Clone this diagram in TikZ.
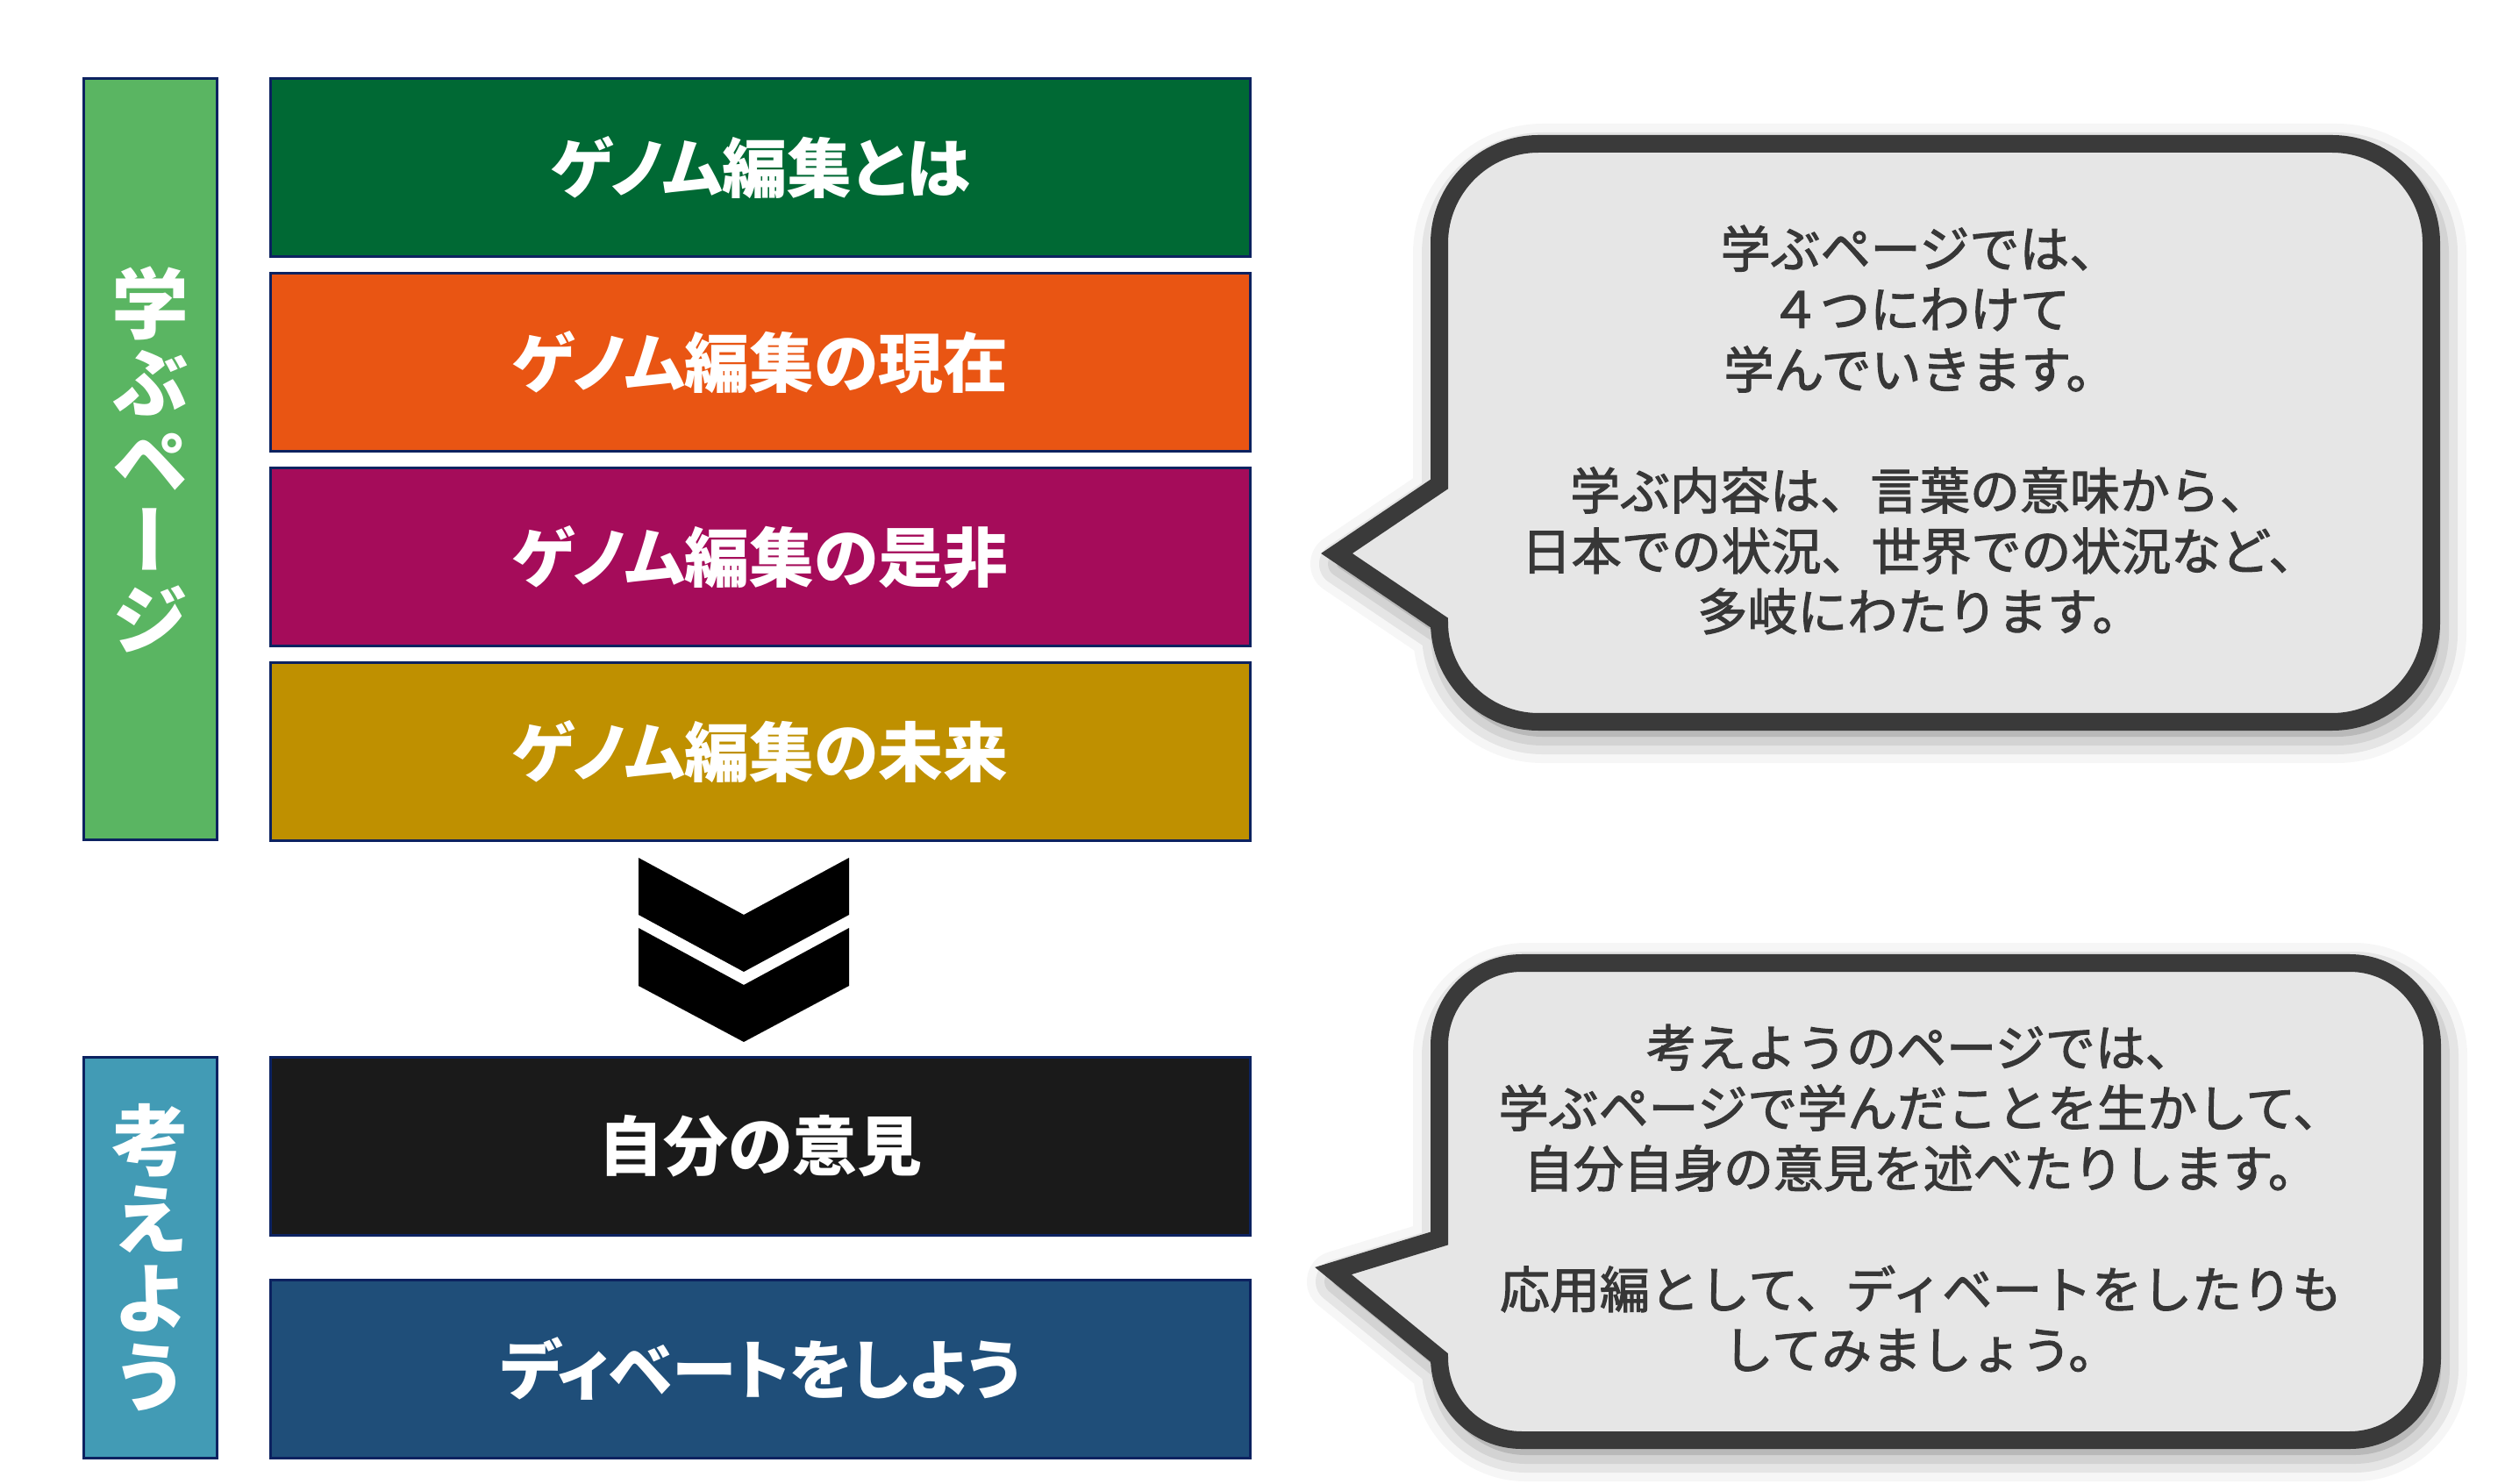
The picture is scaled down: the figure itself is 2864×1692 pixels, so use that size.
\documentclass[tikz,border=0pt]{standalone}
\usepackage{fontspec}
\setmainfont{Noto Sans CJK JP}
\newfontfamily\tatefont[RawFeature=+vert]{Noto Sans CJK JP}
\newfontfamily\labelfont[RawFeature=+palt]{Noto Sans CJK JP}
\newfontfamily\notefont[FakeBold=2]{Noto Sans CJK JP}
\usetikzlibrary{positioning,shadows.blur}
\definecolor{framenavy}{RGB}{12,34,96}
\definecolor{manabugreen}{RGB}{90,181,98}
\definecolor{kangaeblue}{RGB}{66,155,181}
\definecolor{genomegreen}{RGB}{0,105,52}
\definecolor{genomeorange}{RGB}{233,85,19}
\definecolor{genomepurple}{RGB}{165,12,90}
\definecolor{genomegold}{RGB}{191,144,0}
\definecolor{opinionblack}{RGB}{26,26,26}
\definecolor{debateblue}{RGB}{31,78,121}
\definecolor{bubbleline}{RGB}{58,58,58}
\definecolor{bubblefill}{RGB}{230,230,230}
\definecolor{bubbleink}{RGB}{55,55,55}
\tikzset{
    topic/.style={draw=framenavy,line width=0.03cm,minimum width=11.17cm,minimum height=2.03cm,
        inner sep=0pt,text=white,font=\labelfont\fontsize{21}{24}\selectfont\bfseries},
    sidebar/.style={draw=framenavy,line width=0.03cm,minimum width=1.52cm,inner sep=0pt,
        text=white,align=center,font=\tatefont\fontsize{25}{25.6}\selectfont\bfseries},
    bubble/.style={draw=bubbleline,fill=bubblefill,line width=0.2cm,line join=miter,
        blur shadow={shadow xshift=0.05cm,shadow yshift=-0.12cm,shadow blur radius=0.35cm,shadow opacity=55}},
    bubbletext/.style={align=center,text=bubbleink,font=\notefont\fontsize{16.2}{19.6}\selectfont}
}
\begin{document}
\begin{tikzpicture}[x=0.01cm,y=-0.01cm]
        \useasboundingbox (0,0) rectangle (2864,1692);
        %% Topics
        \node[topic,fill=genomegreen]  (genome1) at (867,191) {ゲノム編集とは};
        \node[topic,fill=genomeorange,below=0.16cm of genome1] (genome2) {ゲノム編集の現在};
        \node[topic,fill=genomepurple,below=0.16cm of genome2] (genome3) {ゲノム編集の是非};
        \node[topic,fill=genomegold,below=0.16cm of genome3]   (genome4) {ゲノム編集の未来};
        \node[topic,fill=opinionblack,below=2.43cm of genome4] (opinion) {自分の意見};
        \node[topic,fill=debateblue,below=0.48cm of opinion]   (debate)  {ディベートをしよう};
        %% Side bars
        \node[sidebar,fill=manabugreen,minimum height=8.68cm,anchor=north east]
            (manabu) at ([xshift=-0.58cm]genome1.north west) {学\\ぶ\\ペ\\ー\\ジ};
        \node[sidebar,fill=kangaeblue,minimum height=4.57cm,anchor=north east]
            (kangae) at ([xshift=-0.58cm]opinion.north west) {考\\え\\よ\\う};
        %% Chevron
        \fill (728,978) -- (848,1043) -- (968,978) -- (968,1043) -- (848,1108) -- (728,1043) -- cycle;
        \fill (728,1058) -- (848,1123) -- (968,1058) -- (968,1124) -- (848,1188) -- (728,1124) -- cycle;
        %% Callouts
        \draw[bubble] (1641,552) -- (1641,277) .. controls (1641,215) and (1692,164) .. (1754,164)
            -- (2659,164) .. controls (2721,164) and (2772,215) .. (2772,277)
            -- (2772,710) .. controls (2772,772) and (2721,823) .. (2659,823)
            -- (1754,823) .. controls (1692,823) and (1641,772) .. (1641,710)
            -- (1524,631) -- cycle;
        \draw[bubble] (1641,1412) -- (1641,1192) .. controls (1641,1140) and (1683,1098) .. (1735,1098)
            -- (2679,1098) .. controls (2731,1098) and (2773,1140) .. (2773,1192)
            -- (2773,1548) .. controls (2773,1600) and (2731,1642) .. (2679,1642)
            -- (1735,1642) .. controls (1683,1642) and (1641,1600) .. (1641,1548)
            -- (1520,1449) -- cycle;
        %% Callout texts
        \node[bubbletext] (manabunote) at (2189,490) {学ぶページでは、\\　４つにわけて　\\学んでいきます。\\[19.6pt]
            学ぶ内容は、言葉の意味から、\\日本での状況、世界での状況など、\\多岐にわたります。};
        \node[bubbletext] (kangaenote) at (2190,1366) {考えようのページでは、\\学ぶページで学んだことを生かして、\\自分自身の意見を述べたりします。\\[19.6pt]
            応用編として、ディベートをしたりも\\してみましょう。};
    \end{tikzpicture}
\end{document}
